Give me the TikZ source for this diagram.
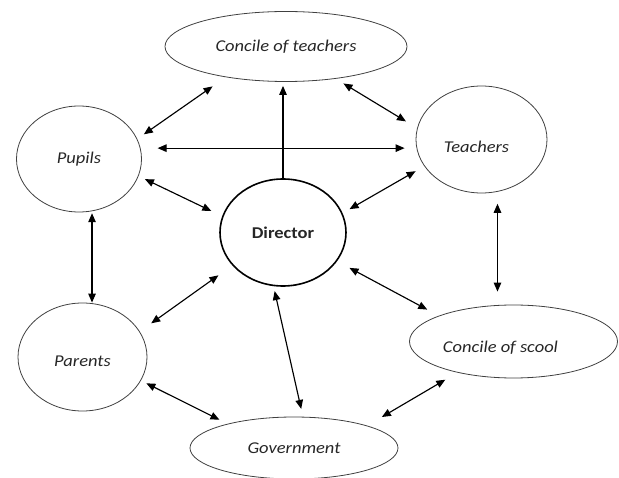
\documentclass[tikz,border=0pt]{standalone}
\usepackage{fontspec}
\setmainfont{Carlito}[FakeStretch=1.12]
\usetikzlibrary{arrows.meta, shapes.geometric}

\tikzset{
  every node/.style={font=\fontsize{16.5}{19}\selectfont\itshape, text=black!85},
  member/.style={draw=black!75, line width=0.8pt, ellipse, inner sep=0pt},
  head/.style={member, draw=black, line width=1.6pt,
    font=\fontsize{16.5}{19}\selectfont\bfseries},
  arr/.style={{Triangle[length=9pt,width=7.5pt]}-{Triangle[length=9pt,width=7.5pt]}, line width=1.15pt},
  oneway/.style={-{Triangle[length=9pt,width=7.5pt]}, line width=1.15pt},
}

\begin{document}
\begin{tikzpicture}[x=1pt, y=-1pt]
  \useasboundingbox (0,0) rectangle (619,478);

  % Members round the director
  \node[member, minimum width=242pt, minimum height=70pt] (cteach) at (286,46.5) {Concile of teachers};
  \node[member, minimum width=125pt, minimum height=106pt] (pupils) at (79,159) {Pupils};
  \node[member, minimum width=131pt, minimum height=107pt,
    label={[name=teachtxt, xshift=-5pt, yshift=-7pt]center:Teachers}] (teach) at (481.5,139.5) {};
  \node[head, minimum width=126pt, minimum height=107pt] (dir) at (283,232.5) {Director};
  \node[member, minimum width=129pt, minimum height=108pt,
    label={[name=parentstxt, yshift=-4pt]center:Parents}] (parents) at (82.5,357) {};
  \node[member, minimum width=208pt, minimum height=73pt,
    label={[name=cscooltxt, xshift=-13pt, yshift=-6pt]center:Concile of scool}] (cscool) at (513.5,341.5) {};
  \node[member, minimum width=208pt, minimum height=62pt] (gov) at (294,448) {Government};

  % Links between members
  \draw[oneway, shorten >=4pt] (dir.north) -- (dir.north |- cteach.south);
  \draw[arr, shorten <=8pt, shorten >=16pt] (pupils.19) -- (cteach.207);
  \draw[arr, shorten <=9pt, shorten >=13pt] (cteach.327) -- (teach.170);
  \draw[arr, shorten <=17pt, shorten >=11pt] (pupils.10) -- (pupils.10 -| teach.west);
  \draw[arr, shorten <=7pt, shorten >=12pt] (pupils.-16) -- (dir.165);
  \draw[arr, shorten <=10pt, shorten >=8pt] (teach.205) -- (dir.18);
  \draw[arr, shorten <=2pt] (pupils.284) -- (pupils.284 |- parents.north);
  \draw[arr, shorten <=12pt, shorten >=13pt] (teach.287) -- (teach.287 |- cscool.north);
  \draw[arr, shorten <=14pt, shorten >=17pt] (parents.24) -- (dir.213);
  \draw[arr, shorten <=14pt, shorten >=13pt] (dir.-28) -- (cscool.161);
  \draw[arr, shorten <=5pt, shorten >=8pt] (dir.260) -- (gov.74);
  \draw[arr, shorten <=6pt, shorten >=9pt] (parents.-22) -- (gov.160);
  \draw[arr, shorten <=17pt, shorten >=14pt] (gov.17) -- (cscool.209);
\end{tikzpicture}
\end{document}
